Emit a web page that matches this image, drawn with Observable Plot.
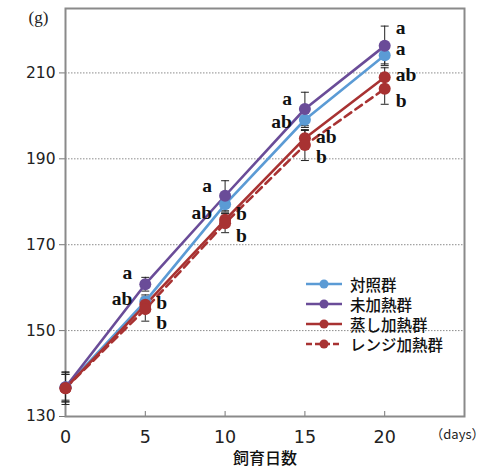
<!DOCTYPE html>
<html><head><meta charset="utf-8">
<script src="https://cdn.jsdelivr.net/npm/d3@7"></script>
<script src="https://cdn.jsdelivr.net/npm/@observablehq/plot@0.6"></script>
<style>
body{margin:0;background:#fff;}
#wrap{position:relative;width:485px;height:475px;}
#legend{position:absolute;left:304px;top:274px;font-family:"Noto Sans CJK JP",sans-serif;font-size:15.5px;font-weight:500;color:#111;}
#legend .row{display:flex;align-items:center;height:20px;}
#legend svg{margin-right:4px;}
</style></head>
<body><div id="wrap"><div id="legend"></div></div>
<script>
const days = [0, 5, 10, 15, 20];
const seriesNames = ["対照群", "未加熱群", "蒸し加熱群", "レンジ加熱群"];
const control   = [136.8, 156.8, 179.4, 199.1, 214.1];
const unheated  = [136.8, 160.8, 181.4, 201.6, 216.3];
const steamed   = [136.6, 156.0, 175.8, 194.8, 209.0];
const microwave = [136.6, 155.0, 175.0, 193.2, 206.3];
const controlErr   = [3.0, 1.5, 1.8, 1.8, 2.0];
const unheatedErr  = [3.4, 1.6, 3.5, 3.9, 4.6];
const steamedErr   = [3.2, 1.5, 1.5, 1.8, 2.2];
const microwaveErr = [3.8, 2.8, 2.2, 3.6, 3.6];
const controlLetters   = ["", "ab", "ab", "ab", "a"];
const unheatedLetters  = ["", "a", "a", "a", "a"];
const steamedLetters   = ["", "b", "b", "ab", "ab"];
const microwaveLetters = ["", "b", "b", "b", "b"];
const yTicks = [130, 150, 170, 190, 210];
const xTicks = [0, 5, 10, 15, 20];

const colors = ["#5b9bd5", "#6a4c98", "#a83232", "#a83232"];
const values = [control, unheated, steamed, microwave];
const errs = [controlErr, unheatedErr, steamedErr, microwaveErr];
const letters = [controlLetters, unheatedLetters, steamedLetters, microwaveLetters];
// label layout (pixel offsets / side) — styling only
const labelDy = [[0,-3,8,2,-7],[0,-11,-10,-10,-18],[0,-2,-6,-1,-2],[0,14,13,12,12]];
const labelLeft = [[0,1,1,1,0],[0,1,1,1,0],[0,0,0,0,0],[0,0,0,0,0]];

const rows = [];
seriesNames.forEach((s, i) => days.forEach((d, j) => rows.push({
  series: s, si: i, day: d, value: values[i][j], err: errs[i][j],
  letter: letters[i][j], dy: labelDy[i][j], left: labelLeft[i][j] === 1
})));
const solid = rows.filter(r => r.si < 3);
const dashed = rows.filter(r => r.si === 3);
const leftRows = rows.filter(r => r.letter && r.left);
const rightRows = rows.filter(r => r.letter && !r.left);
const capW = 0.25;
const letterStyle = {fontSize: 19.5, fontWeight: "bold", fontFamily: "Liberation Serif, serif", fill: "#111"};

const chart = Plot.plot({
  width: 485, height: 475,
  marginLeft: 65, marginRight: 21, marginTop: 8, marginBottom: 59,
  style: {fontFamily: "Noto Sans CJK JP, sans-serif", background: "#fff"},
  x: {domain: [0, 25]},
  y: {domain: [130, 225]},
  color: {domain: seriesNames, range: colors},
  marks: [
    Plot.gridY([150, 170, 190, 210], {stroke: "#8c8c8c", strokeOpacity: 1, strokeDasharray: "1.5,1.5", strokeWidth: 1}),
    Plot.axisY(yTicks, {tickSize: 6, tickPadding: 4, fontSize: 15.5, fontFamily: "DejaVu Sans, sans-serif", tickFormat: d => d, label: null, stroke: "#777", color: "#222"}),
    Plot.axisX(xTicks, {tickSize: -5, tickPadding: 19, fontSize: 17.5, fontFamily: "DejaVu Sans, sans-serif", tickFormat: d => d, label: null, stroke: "#777", color: "#222"}),
    Plot.frame({stroke: "#8a8a8a", strokeWidth: 2}),
    Plot.ruleX(rows, {x: "day", y1: d => d.value - d.err, y2: d => d.value + d.err, stroke: "#222", strokeWidth: 1}),
    Plot.link(rows, {x1: d => d.day - capW, x2: d => d.day + capW, y1: d => d.value + d.err, y2: d => d.value + d.err, stroke: "#222", strokeWidth: 1}),
    Plot.link(rows, {x1: d => d.day - capW, x2: d => d.day + capW, y1: d => d.value - d.err, y2: d => d.value - d.err, stroke: "#222", strokeWidth: 1}),
    Plot.line(solid, {x: "day", y: "value", z: "series", stroke: "series", strokeWidth: 2.6}),
    Plot.line(dashed, {x: "day", y: "value", z: "series", stroke: "series", strokeWidth: 2.6, strokeDasharray: "8,5"}),
    Plot.dot(rows, {x: "day", y: "value", fill: "series", r: 6, stroke: "none"}),
    Plot.text(leftRows, {x: "day", y: "value", text: "letter", textAnchor: "end", dx: -13, ...letterStyle}),
    Plot.text(rightRows, {x: "day", y: "value", text: "letter", textAnchor: "start", dx: 11, ...letterStyle}),
    Plot.text(["飼育日数"], {frameAnchor: "bottom", dy: 47, fontSize: 16, fontWeight: 500, fill: "#111"}),
    Plot.text(["（days）"], {frameAnchor: "bottom-right", dx: 20, dy: 22, textAnchor: "end", fontSize: 13, fill: "#222"}),
    Plot.text(["(g)"], {frameAnchor: "top-left", dx: -27, dy: 9, textAnchor: "middle", lineAnchor: "middle", fontSize: 17, fill: "#222", fontFamily: "Liberation Serif, serif"})
  ]
});
document.getElementById("wrap").appendChild(chart);

// per-label vertical nudges (layout only)
const textGroups = d3.select(chart).selectAll("g[aria-label=text]").nodes();
[leftRows, rightRows].forEach((arr, k) => {
  d3.select(textGroups[k]).selectAll("text").each(function(_, i) {
    const cur = this.getAttribute("transform") || "";
    this.setAttribute("transform", cur + ` translate(0,${arr[i].dy})`);
  });
});

const legend = document.getElementById("legend");
seriesNames.forEach((s, i) => {
  const row = document.createElement("div"); row.className = "row";
  row.innerHTML = `<svg width="42" height="14"><line x1="2" x2="38" y1="7" y2="7" stroke="${colors[i]}" stroke-width="2.5" ${i === 3 ? 'stroke-dasharray="6,3"' : ''}/><circle cx="20" cy="7" r="4.5" fill="${colors[i]}"/></svg><span>${s}</span>`;
  legend.appendChild(row);
});
</script></body></html>
